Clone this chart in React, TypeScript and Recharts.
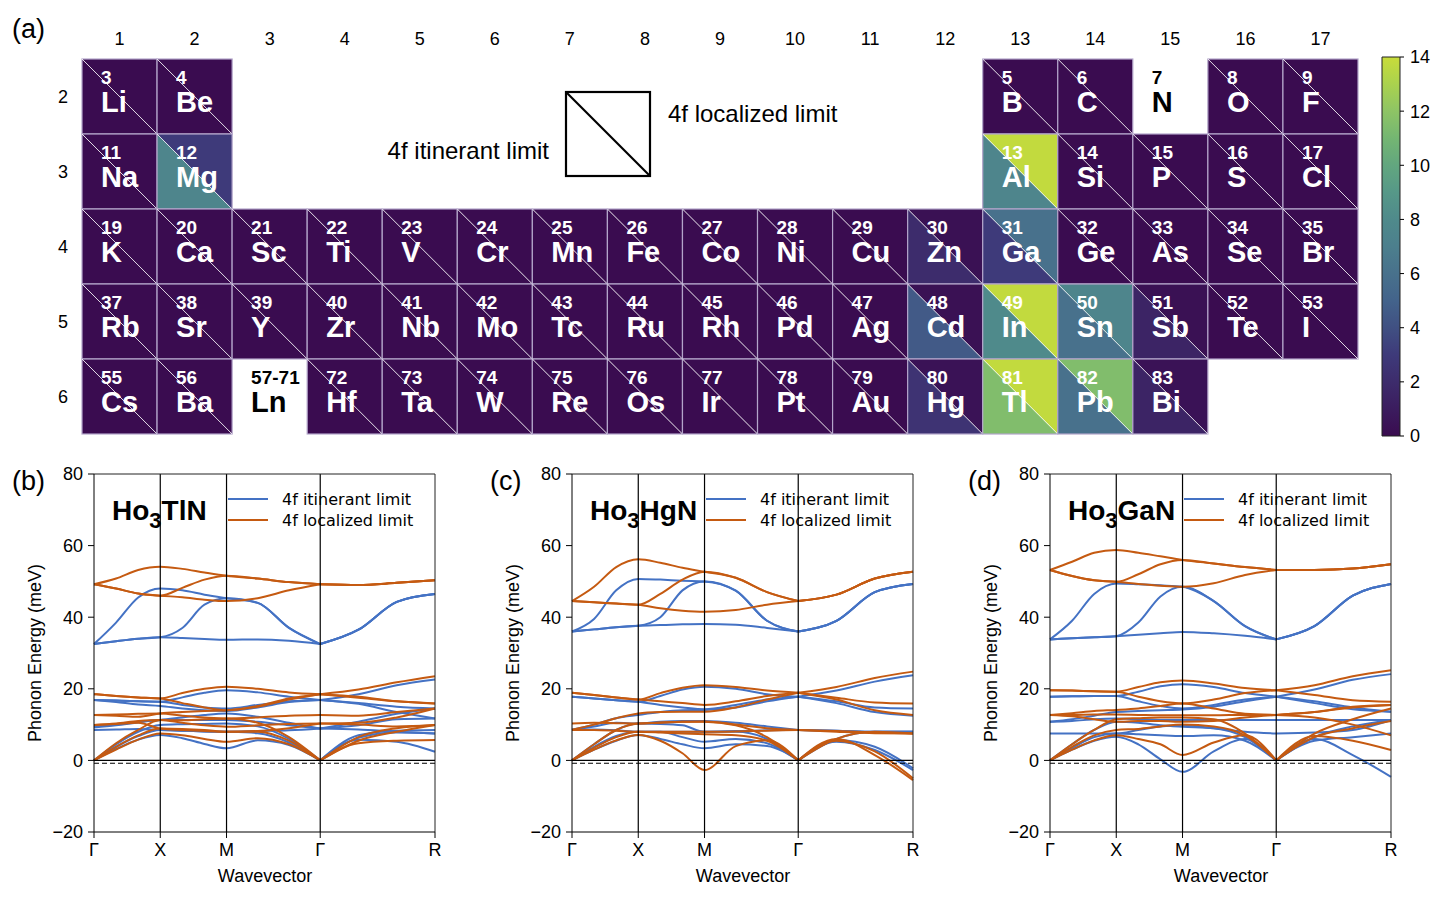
import React from "react";
import {
  ScatterChart,
  Scatter,
  LineChart,
  Line,
  BarChart,
  Bar,
  ReferenceLine,
  XAxis,
  YAxis,
} from "recharts";

const FONT = "'Liberation Sans', Arial, Helvetica, sans-serif";
const LEGEND_FONT = "'DejaVu Sans', sans-serif";
const BLUE = "#4472C4";
const ORANGE = "#C55A11";

// ---------- (a) periodic table ----------
// [symbol, atomic number label, group, period]
const ELEMENTS: [string, string, number, number][] = [
  ["Li", "3", 1, 2], ["Be", "4", 2, 2], ["B", "5", 13, 2], ["C", "6", 14, 2],
  ["N", "7", 15, 2], ["O", "8", 16, 2], ["F", "9", 17, 2],
  ["Na", "11", 1, 3], ["Mg", "12", 2, 3], ["Al", "13", 13, 3], ["Si", "14", 14, 3],
  ["P", "15", 15, 3], ["S", "16", 16, 3], ["Cl", "17", 17, 3],
  ["K", "19", 1, 4], ["Ca", "20", 2, 4], ["Sc", "21", 3, 4], ["Ti", "22", 4, 4],
  ["V", "23", 5, 4], ["Cr", "24", 6, 4], ["Mn", "25", 7, 4], ["Fe", "26", 8, 4],
  ["Co", "27", 9, 4], ["Ni", "28", 10, 4], ["Cu", "29", 11, 4], ["Zn", "30", 12, 4],
  ["Ga", "31", 13, 4], ["Ge", "32", 14, 4], ["As", "33", 15, 4], ["Se", "34", 16, 4],
  ["Br", "35", 17, 4],
  ["Rb", "37", 1, 5], ["Sr", "38", 2, 5], ["Y", "39", 3, 5], ["Zr", "40", 4, 5],
  ["Nb", "41", 5, 5], ["Mo", "42", 6, 5], ["Tc", "43", 7, 5], ["Ru", "44", 8, 5],
  ["Rh", "45", 9, 5], ["Pd", "46", 10, 5], ["Ag", "47", 11, 5], ["Cd", "48", 12, 5],
  ["In", "49", 13, 5], ["Sn", "50", 14, 5], ["Sb", "51", 15, 5], ["Te", "52", 16, 5],
  ["I", "53", 17, 5],
  ["Cs", "55", 1, 6], ["Ba", "56", 2, 6], ["Ln", "57-71", 3, 6], ["Hf", "72", 4, 6],
  ["Ta", "73", 5, 6], ["W", "74", 6, 6], ["Re", "75", 7, 6], ["Os", "76", 8, 6],
  ["Ir", "77", 9, 6], ["Pt", "78", 10, 6], ["Au", "79", 11, 6], ["Hg", "80", 12, 6],
  ["Tl", "81", 13, 6], ["Pb", "82", 14, 6], ["Bi", "83", 15, 6],
];
const BLANK_CELLS = ["N", "Ln"];

// lower-left triangle (4f itinerant), elements not listed read as 0
const ITIN_VALUES: Record<string, number> = {
  Mg: 7.5, Al: 7.5, Zn: 2, Ga: 3, Cd: 4.5, In: 8, Sn: 6, Sb: 1.5, Hg: 2.5, Tl: 11.5, Pb: 6, Bi: 1.5,
};
// upper-right triangle (4f localized)
const LOC_VALUES: Record<string, number> = {
  Mg: 3, Al: 13.8, Ga: 6, In: 13.8, Sn: 7.5, Tl: 13.8, Pb: 11.5, Zn: 0.3, Cd: 0.3, Hg: 0.4, Sb: 0.3, Bi: 0.4,
};

const GROUP_TICKS = [1, 2, 3, 4, 5, 6, 7, 8, 9, 10, 11, 12, 13, 14, 15, 16, 17];
const PERIOD_TICKS = [2, 3, 4, 5, 6];
const CBAR_TICKS = [0, 2, 4, 6, 8, 10, 12, 14];
const CBAR_DATA = [{ name: "cbar", v: 14 }];
const CMAP = [
  "#3a0c50", "#3b1c5e", "#3d2c6c", "#3e3a7a", "#405082", "#43638b", "#48718c", "#4c7f8d",
  "#4f8a8b", "#569888", "#62a67f", "#74b672", "#8ec465", "#aad24e", "#c8dc3a",
];

// ---------- (b)-(d) phonon bands ----------
// path positions: Γ, X, M, Γ, R (cubic lengths 1, 1, √2, √3)
const K = [0, 0.333, 0.667, 1, 1.333, 1.667, 2, 2.471, 2.943, 3.414, 3.991, 4.569, 5.146];
const GAMMA2 = 9; // index of the second Γ, where the path changes direction
const K_TICKS = [0, 1, 2, 3.414, 5.146];
const K_LABELS = ["Γ", "X", "M", "Γ", "R"];
const E_TICKS = [-20, 0, 20, 40, 60, 80];

const TLN_ITIN = [
  [32.5, 33.3, 34.0, 34.4, 34.2, 33.9, 33.7, 33.8, 33.4, 32.5, 36.5, 44.3, 46.5],
  [32.5, 38.5, 45.5, 48.0, 47.5, 46.3, 45.3, 44.0, 37.0, 32.5, 36.5, 44.3, 46.5],
  [32.5, 33.3, 34.0, 34.4, 37.0, 43.5, 45.3, 44.0, 37.0, 32.5, 36.5, 44.3, 46.5],
  [0, 3.2, 5.8, 7.1, 6.2, 4.6, 3.4, 5.6, 4.3, 0, 5.8, 5.2, 2.4],
  [0, 3.8, 6.8, 8.5, 8.3, 8.1, 8.0, 7.6, 5.0, 0, 6.3, 7.8, 7.5],
  [0, 4.5, 8.0, 9.9, 10.1, 10.2, 10.3, 9.5, 6.0, 0, 7.0, 8.3, 8.5],
  [8.5, 8.6, 8.8, 8.5, 8.3, 8.1, 8.0, 8.2, 8.4, 8.9, 8.6, 8.0, 7.5],
  [9.2, 9.8, 10.6, 11.3, 11.3, 11.3, 11.3, 10.8, 9.8, 8.9, 9.8, 11.5, 11.7],
  [9.4, 10.0, 10.8, 11.3, 12.0, 12.7, 13.1, 12.2, 10.5, 8.9, 10.8, 13.0, 14.5],
  [16.9, 16.7, 16.5, 16.4, 15.5, 14.8, 14.5, 15.5, 16.5, 16.9, 15.8, 13.5, 11.7],
  [16.9, 16.7, 16.5, 16.4, 17.6, 18.9, 19.6, 19.0, 17.8, 16.9, 18.5, 21.0, 22.6],
  [16.9, 16.3, 15.6, 15.2, 14.5, 14.0, 13.8, 14.8, 16.3, 16.9, 16.0, 15.0, 14.5],
];
const TLN_LOC = [
  [49.2, 50.8, 53.2, 54.1, 53.5, 52.5, 51.6, 50.8, 49.8, 49.2, 49.0, 49.6, 50.3],
  [49.2, 48.0, 46.6, 46.0, 48.2, 50.5, 51.6, 50.8, 49.8, 49.2, 49.0, 49.6, 50.3],
  [49.2, 48.0, 46.6, 46.0, 45.6, 44.9, 44.5, 45.3, 47.5, 49.2, 49.0, 49.6, 50.3],
  [0, 3.0, 5.8, 7.5, 7.0, 6.0, 5.2, 6.2, 4.5, 0, 4.8, 5.5, 5.7],
  [0, 3.8, 7.0, 8.9, 8.8, 8.5, 8.0, 8.0, 5.5, 0, 5.5, 8.0, 9.9],
  [0, 4.8, 8.5, 11.3, 11.2, 11.5, 11.7, 10.5, 6.5, 0, 6.5, 9.0, 9.9],
  [9.9, 10.3, 11.0, 11.3, 10.5, 9.8, 9.4, 9.8, 10.2, 10.3, 10.0, 9.5, 9.9],
  [12.7, 12.8, 13.0, 13.1, 12.5, 12.0, 11.7, 12.0, 12.5, 12.7, 12.5, 13.5, 14.5],
  [12.7, 12.5, 12.2, 13.1, 13.5, 13.8, 14.0, 15.0, 17.0, 18.5, 17.5, 16.5, 15.9],
  [18.5, 18.0, 17.6, 17.3, 18.8, 20.0, 20.6, 20.0, 19.0, 18.5, 19.8, 21.8, 23.5],
  [18.5, 18.0, 17.6, 17.3, 16.0, 14.8, 14.0, 15.2, 17.3, 18.5, 17.8, 16.5, 15.9],
  [9.9, 10.2, 10.5, 8.9, 8.5, 8.2, 8.0, 8.2, 9.0, 10.3, 10.5, 12.0, 14.5],
];

const HGN_ITIN = [
  [36.0, 36.6, 37.2, 37.6, 37.8, 38.0, 38.1, 37.9, 37.0, 36.0, 39.0, 47.0, 49.3],
  [36.0, 39.5, 47.5, 50.7, 50.5, 50.2, 50.0, 47.4, 39.0, 36.0, 39.0, 47.0, 49.3],
  [36.0, 36.6, 37.2, 37.6, 40.0, 47.5, 50.0, 47.4, 39.0, 36.0, 39.0, 47.0, 49.3],
  [0, 3.0, 5.5, 7.1, 6.0, 4.5, 3.4, 4.5, 4.0, 0, 5.2, 2.9, -2.7],
  [0, 3.8, 6.8, 8.0, 8.0, 6.5, 5.2, 6.0, 4.8, 0, 5.7, 3.8, -2.2],
  [0, 4.5, 8.5, 10.3, 10.2, 9.8, 8.0, 8.0, 6.0, 0, 6.0, 8.0, 8.0],
  [8.5, 8.6, 8.4, 8.0, 8.0, 8.0, 8.0, 8.2, 8.4, 8.5, 8.3, 8.0, 8.0],
  [8.6, 10.0, 11.8, 12.7, 13.5, 14.0, 14.1, 14.8, 16.5, 17.8, 16.0, 13.5, 12.5],
  [17.8, 17.3, 16.8, 16.4, 15.5, 14.8, 14.3, 15.5, 17.0, 17.8, 16.5, 14.8, 14.5],
  [17.8, 17.3, 16.8, 16.4, 18.0, 19.8, 20.6, 20.0, 18.5, 17.8, 19.5, 22.0, 23.8],
  [8.5, 9.5, 10.5, 10.3, 10.8, 11.0, 11.0, 10.5, 9.5, 8.5, 8.3, 8.0, 8.0],
];
const HGN_LOC = [
  [44.5, 48.5, 54.0, 56.2, 55.2, 53.8, 52.7, 51.0, 47.0, 44.5, 46.3, 50.8, 52.7],
  [44.5, 44.2, 43.8, 43.5, 46.5, 50.5, 52.7, 51.0, 47.0, 44.5, 46.3, 50.8, 52.7],
  [44.5, 44.2, 43.8, 43.5, 42.5, 41.8, 41.5, 42.0, 43.5, 44.5, 46.3, 50.8, 52.7],
  [0, 3.0, 5.6, 7.1, 5.5, 2.0, -2.7, 4.0, 5.6, 0, 6.0, 1.5, -5.5],
  [0, 3.5, 6.5, 8.0, 7.8, 7.5, 7.3, 7.0, 5.5, 0, 5.5, 2.5, -5.0],
  [0, 4.5, 8.5, 10.3, 10.5, 10.8, 10.8, 9.8, 6.5, 0, 6.0, 8.0, 7.5],
  [8.5, 8.5, 8.3, 8.0, 8.0, 8.0, 8.0, 8.1, 8.3, 8.5, 8.2, 7.8, 7.5],
  [10.3, 10.5, 10.4, 10.3, 10.6, 10.8, 10.9, 10.0, 9.0, 8.5, 8.0, 7.6, 7.5],
  [8.6, 10.0, 11.8, 13.1, 13.5, 13.6, 13.6, 14.8, 17.0, 18.9, 17.0, 14.0, 12.7],
  [18.9, 18.3, 17.6, 17.0, 16.5, 16.0, 15.5, 16.5, 18.0, 18.9, 17.5, 16.2, 15.9],
  [18.9, 18.3, 17.6, 17.0, 18.8, 20.3, 21.0, 20.5, 19.5, 18.9, 20.5, 23.0, 24.8],
];

const GAN_ITIN = [
  [33.8, 34.1, 34.4, 34.7, 35.1, 35.5, 35.9, 35.5, 34.8, 33.8, 37.5, 46.0, 49.3],
  [33.8, 39.0, 46.5, 49.4, 49.2, 48.9, 48.5, 44.5, 37.5, 33.8, 37.5, 46.0, 49.3],
  [33.8, 34.1, 34.4, 34.7, 38.5, 45.8, 48.5, 44.5, 37.5, 33.8, 37.5, 46.0, 49.3],
  [0, 3.0, 5.5, 6.6, 4.5, 0.3, -3.2, 2.5, 6.0, 0, 6.0, 1.5, -4.6],
  [0, 3.5, 6.5, 7.5, 7.3, 7.0, 6.8, 7.0, 5.5, 0, 5.5, 6.5, 7.5],
  [0, 4.5, 8.5, 10.8, 10.5, 9.8, 9.4, 9.0, 6.5, 0, 6.5, 9.5, 11.3],
  [7.5, 7.5, 7.5, 7.5, 8.5, 9.5, 9.8, 9.0, 8.0, 7.5, 7.8, 8.5, 11.3],
  [10.8, 11.0, 11.5, 11.7, 11.5, 11.3, 11.3, 11.3, 11.3, 11.3, 11.3, 11.3, 11.3],
  [17.8, 17.9, 18.0, 18.0, 16.5, 15.2, 14.5, 15.5, 17.0, 17.8, 16.0, 14.3, 13.6],
  [17.8, 17.9, 18.0, 18.0, 19.2, 20.7, 21.3, 20.5, 18.8, 17.8, 19.8, 22.5, 24.1],
  [10.8, 11.5, 12.5, 13.5, 13.8, 14.0, 14.2, 15.0, 16.5, 17.8, 16.5, 14.8, 13.6],
];
const GAN_LOC = [
  [53.2, 55.5, 58.0, 58.8, 58.0, 57.0, 56.0, 55.0, 54.0, 53.2, 53.2, 53.6, 54.8],
  [53.2, 51.5, 50.3, 49.9, 52.0, 54.8, 56.0, 55.0, 54.0, 53.2, 53.2, 53.6, 54.8],
  [53.2, 51.5, 50.3, 49.9, 49.3, 48.8, 48.5, 49.5, 51.8, 53.2, 53.2, 53.6, 54.8],
  [0, 3.0, 5.6, 7.0, 6.0, 4.5, 1.5, 5.0, 7.0, 0, 6.8, 5.5, 2.9],
  [0, 3.8, 7.0, 8.5, 8.8, 9.5, 10.0, 9.5, 7.0, 0, 6.5, 9.0, 11.0],
  [0, 4.5, 8.5, 11.5, 11.8, 12.0, 12.0, 11.5, 7.5, 0, 7.5, 11.5, 14.5],
  [12.7, 12.7, 12.8, 12.8, 12.7, 12.6, 12.6, 12.6, 12.7, 12.7, 13.5, 14.8, 15.5],
  [12.7, 13.2, 13.8, 14.1, 14.5, 15.2, 15.9, 14.5, 13.0, 12.7, 12.0, 10.0, 7.0],
  [19.6, 19.5, 19.3, 19.2, 17.8, 16.5, 15.9, 17.0, 18.8, 19.6, 18.3, 16.8, 16.4],
  [19.6, 19.5, 19.3, 19.2, 20.5, 21.8, 22.3, 21.5, 20.2, 19.6, 21.0, 23.5, 25.2],
  [12.7, 12.3, 11.5, 10.8, 11.0, 11.0, 10.8, 11.0, 12.0, 12.7, 13.5, 15.0, 15.5],
];

// ---------- helpers ----------
function hexToRgb(h: string) {
  const n = parseInt(h.slice(1), 16);
  return [(n >> 16) & 255, (n >> 8) & 255, n & 255];
}
function cmap(v: number) {
  const t = Math.max(0, Math.min(14, v));
  const i = Math.min(13, Math.floor(t));
  const f = t - i;
  const a = hexToRgb(CMAP[i]);
  const b = hexToRgb(CMAP[i + 1]);
  const c = a.map((x, j) => Math.round(x + (b[j] - x) * f));
  return `rgb(${c[0]},${c[1]},${c[2]})`;
}

const TABLE_W = 1370;
const TABLE_H = 440;
const TABLE_MARGIN = { top: 29, right: 12, bottom: 6, left: 52 };
const CELL_W = (TABLE_W - TABLE_MARGIN.left - 30 - TABLE_MARGIN.right) / 17;
const CELL_H = (TABLE_H - TABLE_MARGIN.top - 30 - TABLE_MARGIN.bottom) / 5;

const cells = ELEMENTS.map(([symbol, z, g, p]) => ({
  symbol,
  z,
  g,
  p,
  itin: ITIN_VALUES[symbol] ?? 0,
  loc: LOC_VALUES[symbol] ?? 0,
}));

function ElementCell(props: any) {
  const { cx, cy, payload } = props;
  if (cx == null || cy == null) return null;
  const x0 = cx - CELL_W / 2;
  const y0 = cy - CELL_H / 2;
  const x1 = cx + CELL_W / 2;
  const y1 = cy + CELL_H / 2;
  const blank = BLANK_CELLS.includes(payload.symbol);
  const fill = blank ? "#000" : "#fff";
  return (
    <g>
      {!blank && (
        <>
          <polygon points={`${x0},${y0} ${x0},${y1} ${x1},${y1}`} fill={cmap(payload.itin)} />
          <polygon points={`${x0},${y0} ${x1},${y0} ${x1},${y1}`} fill={cmap(payload.loc)} />
          <rect x={x0} y={y0} width={CELL_W} height={CELL_H} fill="none" stroke="#b3a5ca" strokeWidth={1.2} />
          <line x1={x0} y1={y0} x2={x1} y2={y1} stroke="#ffffff" strokeWidth={0.8} />
        </>
      )}
      <text x={x0 + 19} y={y0 + 24.5} fontSize={19} fontWeight="bold" fill={fill} fontFamily={FONT}>
        {payload.z}
      </text>
      <text x={x0 + 19} y={y0 + 53} fontSize={29} fontWeight="bold" fill={fill} fontFamily={FONT}>
        {payload.symbol}
      </text>
    </g>
  );
}

// each band is split at the second Γ so the acoustic branches keep their cusp there
function buildRows(itin: number[][], loc: number[][]) {
  return K.map((k, i) => {
    const row: Record<string, number> = { k };
    const put = (prefix: string, bands: number[][]) =>
      bands.forEach((b, j) => {
        if (i <= GAMMA2) row[`${prefix}${j}a`] = b[i];
        if (i >= GAMMA2) row[`${prefix}${j}b`] = b[i];
      });
    put("i", itin);
    put("l", loc);
    return row;
  });
}

const tickStyle = { fontSize: 18, fill: "#000", fontFamily: FONT };

function bandLines(prefix: string, bands: number[][], color: string) {
  return bands.flatMap((_, j) =>
    ["a", "b"].map((part) => (
      <Line
        key={`${prefix}${j}${part}`}
        dataKey={`${prefix}${j}${part}`}
        type="monotone"
        stroke={color}
        strokeWidth={2}
        dot={false}
        connectNulls={false}
        isAnimationActive={false}
      />
    ))
  );
}

function PhononPanel({ left, itin, loc }: { left: number; itin: number[][]; loc: number[][] }) {
  const rows = buildRows(itin, loc);
  return (
    <div style={{ position: "absolute", left, top: 440 }}>
      <LineChart width={450} height={457} data={rows} margin={{ top: 34, right: 15, bottom: 35, left: 34 }}>
        <XAxis
          dataKey="k"
          type="number"
          domain={[0, 5.146]}
          ticks={K_TICKS}
          interval={0}
          tickFormatter={(v: number) => K_LABELS[K_TICKS.indexOf(v)] ?? ""}
          tick={tickStyle}
          tickSize={6}
          tickMargin={5}
          height={30}
          axisLine={{ stroke: "#000" }}
          tickLine={{ stroke: "#000" }}
        />
        <YAxis
          type="number"
          domain={[-20, 80]}
          ticks={E_TICKS}
          interval={0}
          tickFormatter={(v: number) => (v < 0 ? `\u2212${-v}` : `${v}`)}
          tick={tickStyle}
          tickSize={6}
          tickMargin={5}
          width={60}
          axisLine={{ stroke: "#000" }}
          tickLine={{ stroke: "#000" }}
        />
        {bandLines("i", itin, BLUE)}
        {bandLines("l", loc, ORANGE)}
        <ReferenceLine x={1} stroke="#000" strokeWidth={1.2} />
        <ReferenceLine x={2} stroke="#000" strokeWidth={1.2} />
        <ReferenceLine x={3.414} stroke="#000" strokeWidth={1.2} />
        <ReferenceLine x={5.146} stroke="#222" strokeWidth={1} />
        <ReferenceLine y={80} stroke="#222" strokeWidth={1} />
        <ReferenceLine y={0} stroke="#000" strokeWidth={1.2} />
        <ReferenceLine y={-0.8} stroke="#000" strokeWidth={1.2} strokeDasharray="5 3" />
      </LineChart>
    </div>
  );
}

const PANELS = [
  { tag: "(b)", left: 0, name: ["Ho", "3", "TlN"], itin: TLN_ITIN, loc: TLN_LOC },
  { tag: "(c)", left: 478, name: ["Ho", "3", "HgN"], itin: HGN_ITIN, loc: HGN_LOC },
  { tag: "(d)", left: 956, name: ["Ho", "3", "GaN"], itin: GAN_ITIN, loc: GAN_LOC },
];

export default function App() {
  return (
    <div style={{ position: "absolute", left: 0, top: 0, width: 1445, height: 897, background: "#fff", overflow: "hidden" }}>
      <div style={{ position: "absolute", left: 0, top: 0 }}>
        <ScatterChart width={TABLE_W} height={TABLE_H} margin={TABLE_MARGIN}>
          <XAxis
            dataKey="g"
            type="number"
            orientation="top"
            domain={[0.5, 17.5]}
            ticks={GROUP_TICKS}
            interval={0}
            height={30}
            axisLine={false}
            tickLine={false}
            tickSize={0}
            tickMargin={14}
            tick={tickStyle}
          />
          <YAxis
            dataKey="p"
            type="number"
            domain={[1.5, 6.5]}
            reversed
            ticks={PERIOD_TICKS}
            interval={0}
            width={30}
            axisLine={false}
            tickLine={false}
            tickSize={0}
            tickMargin={14}
            tick={tickStyle}
          />
          <Scatter data={cells} shape={ElementCell} isAnimationActive={false} />
        </ScatterChart>
      </div>

      <div style={{ position: "absolute", left: 1370, top: 45 }}>
        <BarChart
          width={75}
          height={400}
          data={CBAR_DATA}
          margin={{ top: 12, right: 2, bottom: 9, left: 12 }}
          barCategoryGap={0}
        >
          <defs>
            <linearGradient id="cbarGrad" x1="0" y1="1" x2="0" y2="0">
              {CMAP.map((c, i) => (
                <stop key={i} offset={`${(i / (CMAP.length - 1)) * 100}%`} stopColor={c} />
              ))}
            </linearGradient>
          </defs>
          <XAxis dataKey="name" hide />
          <YAxis
            orientation="right"
            type="number"
            domain={[0, 14]}
            ticks={CBAR_TICKS}
            interval={0}
            width={43}
            tick={tickStyle}
            tickSize={4}
            tickMargin={6}
            axisLine={false}
            tickLine={{ stroke: "#000" }}
          />
          <Bar dataKey="v" fill="url(#cbarGrad)" stroke="#222" strokeWidth={1} isAnimationActive={false} />
        </BarChart>
      </div>

      {PANELS.map((p) => (
        <PhononPanel key={p.tag} left={p.left} itin={p.itin} loc={p.loc} />
      ))}

      <svg
        width={1445}
        height={897}
        style={{ position: "absolute", left: 0, top: 0, pointerEvents: "none" }}
        fontFamily={FONT}
      >
        <text x={12} y={38} fontSize={27}>(a)</text>
        <rect x={566} y={92} width={84} height={84} fill="none" stroke="#000" strokeWidth={2.2} />
        <line x1={566} y1={92} x2={650} y2={176} stroke="#000" strokeWidth={2.2} />
        <text x={668} y={122} fontSize={24}>4f localized limit</text>
        <text x={549} y={159} fontSize={24} textAnchor="end">4f itinerant limit</text>

        {PANELS.map((p) => (
          <g key={p.tag} transform={`translate(${p.left},0)`}>
            <text x={12} y={490} fontSize={27}>{p.tag}</text>
            <text x={41} y={653} fontSize={18} textAnchor="middle" transform="rotate(-90 41 653)">
              Phonon Energy (meV)
            </text>
            <text x={265} y={882} fontSize={18} textAnchor="middle">Wavevector</text>
            <text x={112} y={520} fontSize={28} fontWeight="bold">
              {p.name[0]}
              <tspan fontSize={22} dy={8}>{p.name[1]}</tspan>
              <tspan dy={-8}>{p.name[2]}</tspan>
            </text>
            <line x1={228} y1={499} x2={268} y2={499} stroke={BLUE} strokeWidth={2} />
            <line x1={228} y1={520} x2={268} y2={520} stroke={ORANGE} strokeWidth={2} />
            <text x={282} y={505} fontSize={16} fontFamily={LEGEND_FONT}>4f itinerant limit</text>
            <text x={282} y={526} fontSize={16} fontFamily={LEGEND_FONT}>4f localized limit</text>
          </g>
        ))}
      </svg>
    </div>
  );
}
